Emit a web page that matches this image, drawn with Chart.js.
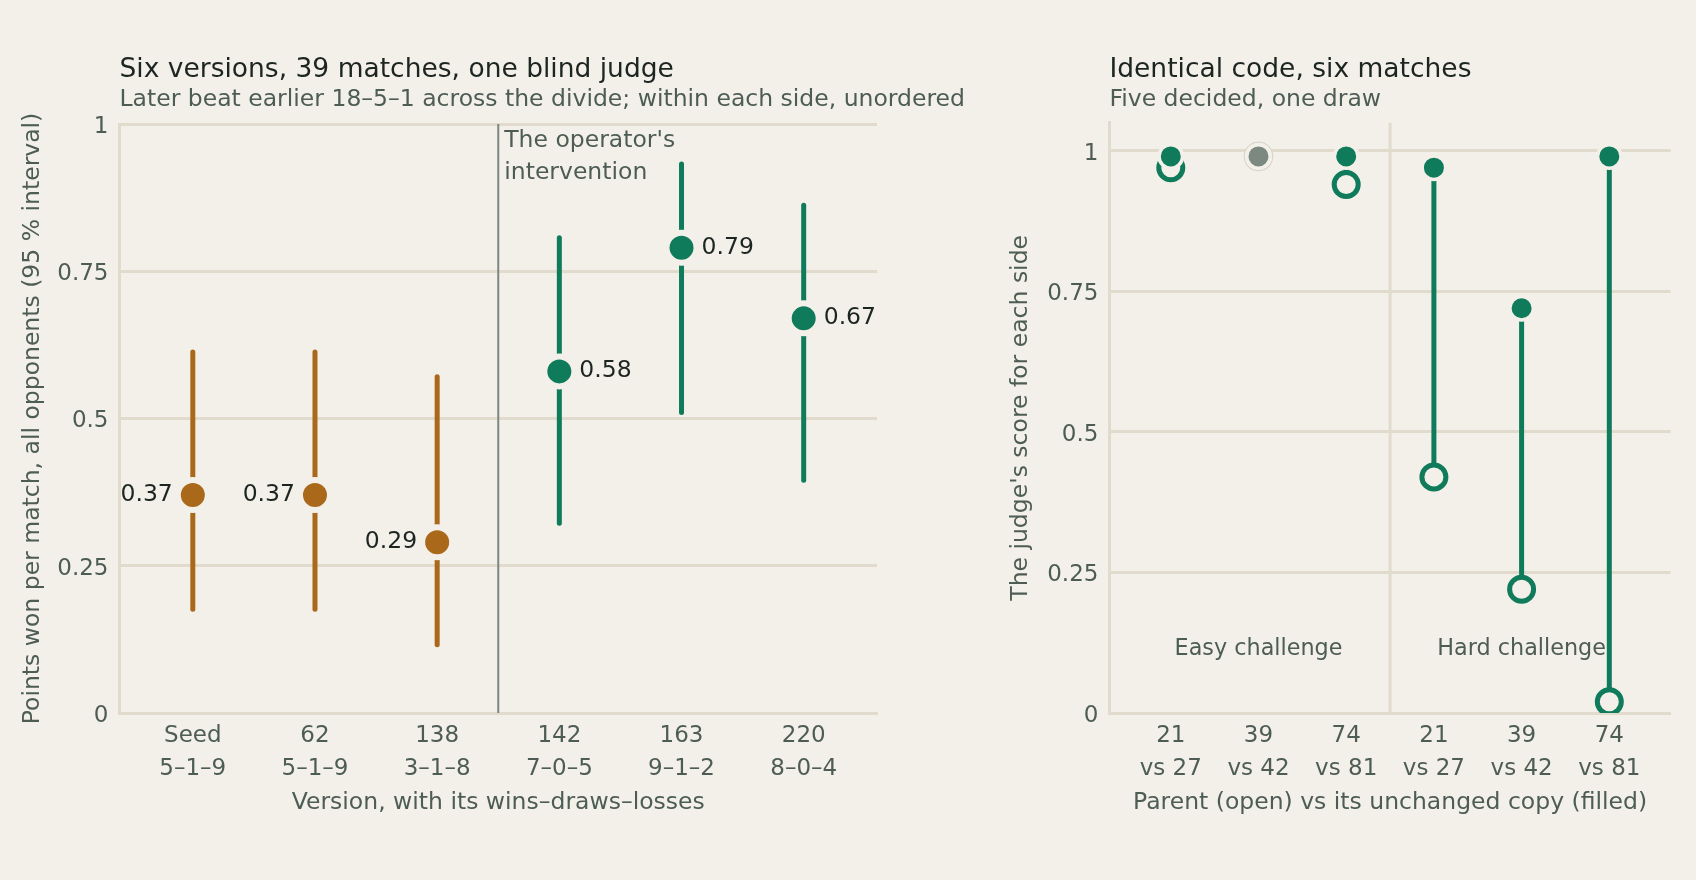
<!DOCTYPE html>
<html>
<head>
<meta charset="utf-8">
<script src="https://cdn.jsdelivr.net/npm/chart.js@4.4.1/dist/chart.umd.min.js"></script>
<style>
  body { margin: 0; background: #f3f0ea; }
  .panel { position: absolute; top: 0; height: 880px; }
</style>
</head>
<body>
<div class="panel" style="left:0;width:1000px"><canvas id="versions"></canvas></div>
<div class="panel" style="left:1000px;width:696px"><canvas id="matches"></canvas></div>
<script>
// left panel: six versions
const versionNames = ['Seed', '62', '138', '142', '163', '220'];
const versionRecords = ['5–1–9', '5–1–9', '3–1–8', '7–0–5', '9–1–2', '8–0–4'];
const pointsWon = [0.37, 0.37, 0.29, 0.58, 0.79, 0.67];
const intervalLow = [0.176, 0.176, 0.116, 0.322, 0.51, 0.395];
const intervalHigh = [0.613, 0.613, 0.571, 0.807, 0.932, 0.862];
const afterIntervention = [false, false, false, true, true, true];

// right panel: identical code, six matches
const matchParents = ['21', '39', '74', '21', '39', '74'];
const matchCopies = ['vs 27', 'vs 42', 'vs 81', 'vs 27', 'vs 42', 'vs 81'];
const parentScore = [0.97, 0.99, 0.94, 0.42, 0.22, 0.02];
const copyScore = [0.99, 0.99, 0.99, 0.97, 0.72, 0.99];
const matchDrawn = [false, true, false, false, false, false];
const challengeNames = ['Easy challenge', 'Hard challenge'];
const challengeAt = [1, 4];

const yTicks = [0, 0.25, 0.5, 0.75, 1];

const BG = '#f3f0ea';
const GRID = '#e0dbcc';
const TEXT = '#4e5d54';
const DARK = '#1d2521';
const GREEN = '#0f7b5a';
const ORANGE = '#a9681a';
const GREY = '#7c8980';
const FONT = "'DejaVu Sans', sans-serif";

Chart.defaults.font.family = FONT;
Chart.defaults.color = TEXT;
Chart.defaults.animation = false;
Chart.defaults.plugins.legend.display = false;
Chart.defaults.plugins.tooltip.enabled = false;

function titlesPlugin(title, subtitle) {
    return {
        id: 'titles',
        afterDraw(chart) {
            const ctx = chart.ctx;
            ctx.save();
            ctx.textAlign = 'left';
            ctx.textBaseline = 'alphabetic';
            ctx.fillStyle = DARK;
            ctx.font = '26.5px ' + FONT;
            ctx.fillText(title, chart.chartArea.left, 77);
            ctx.fillStyle = TEXT;
            ctx.font = '23.5px ' + FONT;
            ctx.fillText(subtitle, chart.chartArea.left, 106);
            ctx.restore();
        }
    };
}

function dividerPlugin(color, width) {
    return {
        id: 'divider',
        beforeDatasetsDraw(chart) {
            const x = chart.scales.x.getPixelForValue(2.5);
            const ctx = chart.ctx;
            ctx.save();
            ctx.strokeStyle = color;
            ctx.lineWidth = width;
            ctx.beginPath();
            ctx.moveTo(x, chart.chartArea.top);
            ctx.lineTo(x, chart.chartArea.bottom);
            ctx.stroke();
            ctx.restore();
        }
    };
}

function yScale(max, titleText, titlePad, width) {
    return {
        min: 0,
        max: max,
        afterBuildTicks: (s) => { s.ticks = yTicks.map(v => ({value: v})); },
        afterFit: (s) => { s.width = width; },
        grid: { color: GRID, lineWidth: 3, drawTicks: false },
        border: { color: GRID, width: 3 },
        ticks: { font: { size: 23 }, color: TEXT, padding: 11, labelOffset: 3, callback: (v) => String(v) },
        title: { display: true, text: titleText, font: { size: 23.5 }, color: TEXT, padding: { top: titlePad } }
    };
}

function xScale(min, max, top, bottom, titleText) {
    return {
        type: 'linear',
        min: min,
        max: max,
        afterBuildTicks: (s) => { s.ticks = top.map((_, i) => ({value: i})); },
        afterFit: (s) => { s.height = 167; },
        grid: { display: false, drawTicks: false },
        border: { color: GRID, width: 3 },
        ticks: { font: { size: 23, lineHeight: 1.45 }, color: TEXT, padding: 6, callback: (v) => [top[v], bottom[v]] },
        title: { display: true, text: titleText, font: { size: 23.5 }, color: TEXT, padding: { bottom: 63.5 } }
    };
}

// left chart
const versionColors = afterIntervention.map(a => a ? GREEN : ORANGE);
const intervalSets = versionNames.map((_, i) => ({
    showLine: true,
    data: [{x: i, y: intervalLow[i]}, {x: i, y: intervalHigh[i]}],
    borderColor: versionColors[i],
    borderWidth: 5,
    borderCapStyle: 'round',
    pointRadius: 0,
    order: 2
}));

new Chart(document.getElementById('versions'), {
    type: 'scatter',
    data: {
        datasets: [{
            data: pointsWon.map((v, i) => ({x: i, y: v})),
            pointRadius: 15,
            pointBorderWidth: 6,
            pointBackgroundColor: versionColors,
            pointBorderColor: BG,
            order: 0
        }, ...intervalSets]
    },
    options: {
        responsive: true,
        maintainAspectRatio: false,
        layout: { padding: { left: 0, right: 123, top: 124, bottom: 0 } },
        scales: {
            x: xScale(-0.6, 5.6, versionNames, versionRecords, 'Version, with its wins–draws–losses'),
            y: yScale(1, 'Points won per match, all opponents (95 % interval)', 19, 119.5)
        }
    },
    plugins: [
        titlesPlugin('Six versions, 39 matches, one blind judge',
                     'Later beat earlier 18–5–1 across the divide; within each side, unordered'),
        dividerPlugin('#7d867f', 2),
        {
            id: 'labels',
            afterDatasetsDraw(chart) {
                const ctx = chart.ctx;
                const pts = chart.getDatasetMeta(0).data;
                ctx.save();
                ctx.font = '23.5px ' + FONT;
                ctx.fillStyle = DARK;
                ctx.textBaseline = 'middle';
                pts.forEach((p, i) => {
                    const txt = pointsWon[i].toFixed(2);
                    if (afterIntervention[i]) {
                        ctx.textAlign = 'left';
                        ctx.fillText(txt, p.x + 20, p.y);
                    } else {
                        ctx.textAlign = 'right';
                        ctx.fillText(txt, p.x - 20, p.y);
                    }
                });
                // note beside the divider
                const x = chart.scales.x.getPixelForValue(2.5) + 6;
                ctx.fillStyle = TEXT;
                ctx.textAlign = 'left';
                ctx.fillText("The operator's", x, chart.chartArea.top + 16.5);
                ctx.fillText('intervention', x, chart.chartArea.top + 49);
                ctx.restore();
            }
        }
    ]
});

// right chart
const pairColors = matchDrawn.map(d => d ? GREY : GREEN);
const pairSets = matchParents.map((_, i) => ({
    showLine: true,
    data: [{x: i, y: copyScore[i]}, {x: i, y: parentScore[i]}],
    borderColor: pairColors[i],
    borderWidth: 5,
    pointRadius: 0,
    order: 3
}));

new Chart(document.getElementById('matches'), {
    type: 'scatter',
    data: {
        datasets: [{
            // unchanged copy, filled
            data: copyScore.map((v, i) => ({x: i, y: v})),
            pointRadius: 11.75,
            pointBorderWidth: 3.5,
            pointBackgroundColor: pairColors,
            pointBorderColor: BG,
            order: 0
        }, {
            // parent, open
            data: parentScore.map((v, i) => ({x: i, y: v})),
            pointRadius: matchDrawn.map(d => d ? 14.25 : 12),
            pointBorderWidth: matchDrawn.map(d => d ? 1.2 : 5),
            pointBackgroundColor: BG,
            pointBorderColor: matchDrawn.map(d => d ? '#d9d5ca' : GREEN),
            order: 1
        }, ...pairSets]
    },
    options: {
        responsive: true,
        maintainAspectRatio: false,
        layout: { padding: { left: 0, right: 25.3, top: 122.7, bottom: 0 } },
        scales: {
            x: xScale(-0.7, 5.7, matchParents, matchCopies, 'Parent (open) vs its unchanged copy (filled)'),
            y: yScale(1.05, "The judge's score for each side", 7, 109.4)
        }
    },
    plugins: [
        titlesPlugin('Identical code, six matches', 'Five decided, one draw'),
        dividerPlugin(GRID, 3),
        {
            id: 'challenges',
            beforeDatasetsDraw(chart) {
                const ctx = chart.ctx;
                ctx.save();
                ctx.font = '22.3px ' + FONT;
                ctx.fillStyle = TEXT;
                ctx.textAlign = 'center';
                ctx.textBaseline = 'middle';
                challengeNames.forEach((name, i) => {
                    ctx.fillText(name, chart.scales.x.getPixelForValue(challengeAt[i]),
                                 chart.scales.y.getPixelForValue(0.114));
                });
                ctx.restore();
            }
        }
    ]
});
</script>
</body>
</html>
